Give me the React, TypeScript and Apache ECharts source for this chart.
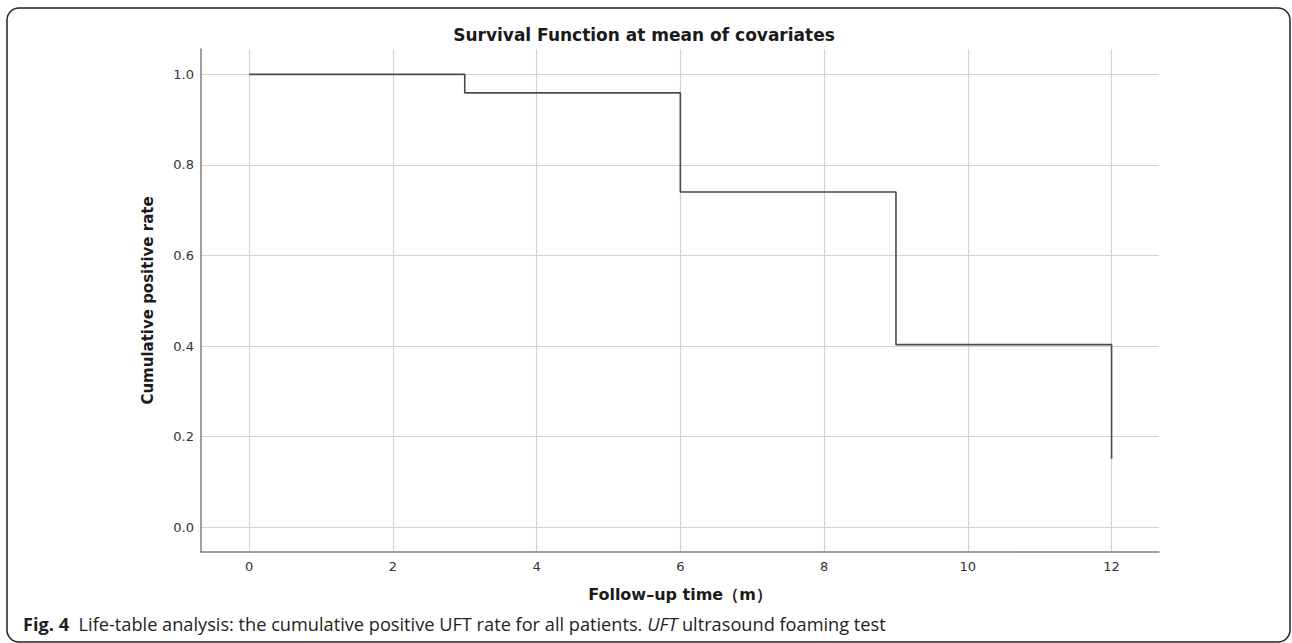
import React, { useEffect, useRef } from "react";
import * as echarts from "echarts";

const stepTimes = [0, 3, 6, 9, 12];
const stepRates = [1.0, 0.959, 0.74, 0.403, 0.151];
const xTicks = [0, 2, 4, 6, 8, 10, 12];
const yTicks = [0, 0.2, 0.4, 0.6, 0.8, 1.0];

const titleText = "Survival Function at mean of covariates";
const xName = "Follow–up time（m）";
const yName = "Cumulative positive rate";

export default function App() {
  const ref = useRef<HTMLDivElement>(null);
  useEffect(() => {
    if (!ref.current) return;
    const chart = echarts.init(ref.current, null, { renderer: "svg" });
    const data = stepTimes.map((t, i) => [t, stepRates[i]]);
    chart.setOption({
      animation: false,
      backgroundColor: "#ffffff",
      title: {
        text: titleText,
        left: 639,
        textAlign: "center",
        top: 21,
        textStyle: { fontFamily: "DejaVu Sans", fontWeight: "bold", fontSize: 17, color: "#1a1a1a" },
      },
      grid: { left: 201, top: 49, right: 133, bottom: 91, containLabel: false },
      xAxis: {
        type: "value",
        min: -0.67,
        max: 12.66,
        name: xName,
        nameLocation: "middle",
        nameGap: 34,
        nameTextStyle: { fontFamily: "DejaVu Sans", fontWeight: "bold", fontSize: 16, color: "#1a1a1a" },
        axisLine: { onZero: false, lineStyle: { color: "#808080", width: 1.5 } },
        axisTick: { show: false, customValues: xTicks },
        axisLabel: { customValues: xTicks, fontFamily: "DejaVu Sans", fontSize: 13, color: "#333", margin: 8 },
        splitLine: { show: true, lineStyle: { color: "#d2d2d2", width: 1.2 } },
      },
      yAxis: {
        type: "value",
        min: -0.055,
        max: 1.056,
        name: yName,
        nameLocation: "middle",
        nameRotate: 90,
        nameGap: 46,
        nameTextStyle: { fontFamily: "DejaVu Sans", fontWeight: "bold", fontSize: 15, color: "#1a1a1a" },
        axisLine: { show: true, onZero: false, lineStyle: { color: "#808080", width: 1.5 } },
        axisTick: { show: false, customValues: yTicks },
        axisLabel: {
          customValues: yTicks,
          formatter: (v: number) => v.toFixed(1),
          fontFamily: "DejaVu Sans",
          fontSize: 13,
          color: "#333",
          margin: 7,
        },
        splitLine: { show: true, lineStyle: { color: "#d2d2d2", width: 1.2 } },
      },
      series: [
        {
          type: "line",
          step: "end",
          data,
          symbol: "none",
          lineStyle: { color: "#4a4a4a", width: 1.6 },
        },
      ],
      graphic: [
        {
          type: "rect",
          shape: { x: 7, y: 8, width: 1283, height: 634, r: 12 },
          style: { fill: "none", stroke: "#222", lineWidth: 1.5 },
          silent: true,
        },
        {
          type: "text",
          x: 23,
          y: 624,
          style: {
            text: "{b|Fig. 4}  Life-table analysis: the cumulative positive UFT rate for all patients. {i|UFT} ultrasound foaming test",
            fontFamily: "Open Sans",
            fontSize: 18.2,
            fill: "#231f20",
            verticalAlign: "middle",
            rich: {
              b: { fontFamily: "Open Sans", fontWeight: "bold", fontSize: 18.2, fill: "#231f20" },
              i: { fontFamily: "Open Sans", fontStyle: "italic", fontSize: 18.2, fill: "#231f20" },
            },
          },
        },
      ],
    });
    return () => chart.dispose();
  }, []);
  return (
    <div
      ref={ref}
      style={{ position: "fixed", left: 0, top: 0, width: 1292, height: 643 }}
    />
  );
}
